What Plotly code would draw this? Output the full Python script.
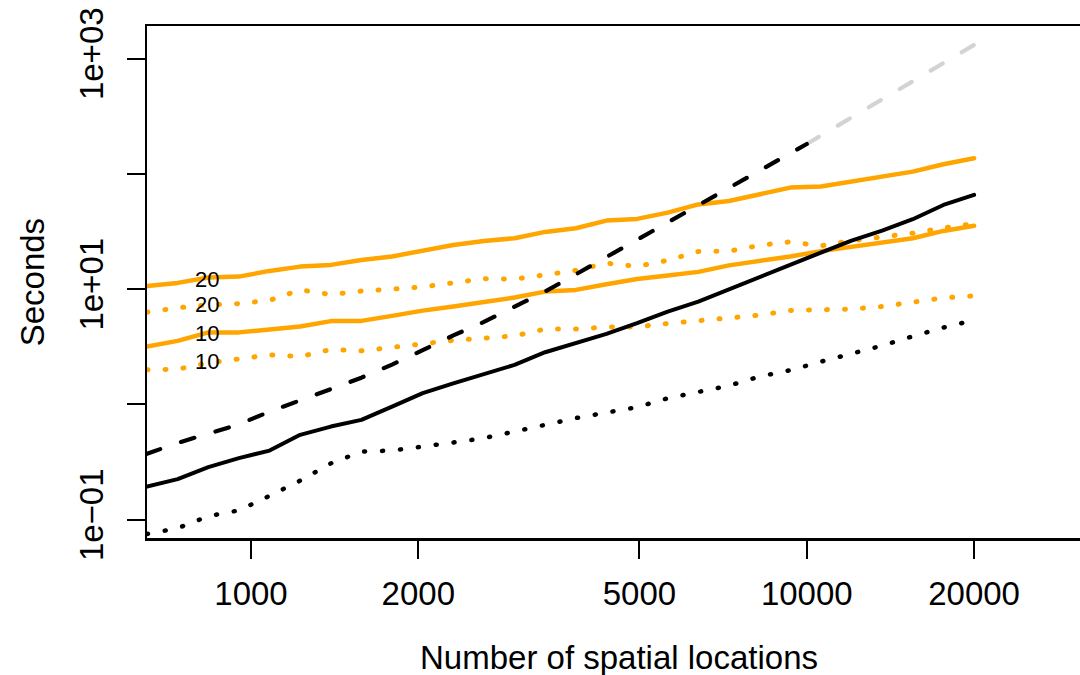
import numpy as np
import plotly.graph_objects as go

# ---- data ----
n_locations = [650, 738, 838, 951, 1080, 1226, 1392, 1580, 1794, 2037, 2312, 2625, 2980, 3383,
               3841, 4361, 4951, 5621, 6381, 7245, 8225, 9338, 10602, 12036, 13665, 15514, 17613, 20000]

black_solid = [0.194, 0.225, 0.286, 0.342, 0.398, 0.545, 0.643, 0.735, 0.959, 1.253, 1.524, 1.824,
               2.205, 2.84, 3.40, 4.10, 5.07, 6.39, 7.80, 10.0, 12.86, 16.25, 20.8, 26.4, 32.2, 40.5,
               53.8, 65.8]

dashed_locations = [650, 738, 838, 951, 1080, 1226, 1392, 1580, 1794, 2037, 2312, 2625, 2980, 3383,
                    3841, 4361, 4951, 5621, 6381, 7245, 8225, 9338, 10000]
black_dashed = [0.373, 0.464, 0.558, 0.672, 0.867, 1.096, 1.358, 1.708, 2.218, 2.96, 3.97, 5.20,
                7.04, 9.55, 13.46, 19.06, 26.8, 37.8, 54.1, 75.6, 106.2, 153, 182]

extrap_locations = [10000, 20000]
gray_dashed = [182, 1315]

black_dotted = [0.0752, 0.0844, 0.1074, 0.1205, 0.161, 0.218, 0.308, 0.390, 0.398, 0.428, 0.468,
                0.510, 0.577, 0.665, 0.762, 0.851, 0.948, 1.132, 1.270, 1.456, 1.746, 1.983, 2.35,
                2.76, 3.24, 3.90, 4.65, 5.38]

orange_solid_20 = [10.68, 11.34, 12.61, 12.86, 14.41, 15.70, 16.25, 17.95, 19.25, 21.79, 24.22,
                   26.24, 27.69, 31.41, 33.82, 39.36, 40.72, 46.16, 54.4, 58.3, 67.1, 76.1, 77.9,
                   85.8, 94.8, 104.7, 121.4, 136.8]

orange_solid_10 = [3.178, 3.562, 4.220, 4.220, 4.480, 4.739, 5.288, 5.31, 5.866, 6.52, 7.07, 7.72,
                   8.46, 9.53, 9.86, 11.05, 12.28, 13.13, 14.13, 16.09, 17.42, 19.25, 21.40, 23.18,
                   25.62, 27.69, 32.03, 35.54]

orange_dotted_20 = [6.32, 6.90, 7.31, 7.50, 8.00, 9.86, 8.98, 9.63, 10.02, 10.47, 11.36, 12.33,
                    12.21, 13.33, 14.55, 16.81, 15.77, 17.81, 21.23, 21.36, 24.03, 25.77, 23.75,
                    26.39, 28.42, 30.60, 34.02, 37.07]

orange_dotted_10 = [1.996, 2.024, 2.290, 2.476, 2.693, 2.603, 2.999, 2.917, 3.159, 3.355, 3.596,
                    3.728, 3.936, 4.507, 4.515, 4.692, 4.71, 5.04, 5.31, 5.66, 5.96, 6.54, 6.64,
                    6.72, 7.08, 7.70, 8.40, 8.75]

label_texts = ["20", "20", "10", "10"]
label_x = [832, 832, 832, 832]
label_y = [12.2, 7.41, 4.15, 2.355]

x_tick_vals = [1000, 2000, 5000, 10000, 20000]
x_tick_text = ["1000", "2000", "5000", "10000", "20000"]
y_tick_vals = [0.1, 1, 10, 100, 1000]
y_tick_text = ["1e\u221201", "", "1e+01", "", "1e+03"]

ORANGE = "#FFA500"
FONT = "Liberation Sans, Arial, Helvetica, sans-serif"
DASH = "14px,22px"   # drawn with round caps
DOT = "1px,17px"     # drawn with round caps -> round dots

fig = go.Figure()

def add_line(x, y, color, width, dash):
    fig.add_trace(go.Scatter(x=x, y=y, mode="lines",
                             line=dict(color=color, width=width, dash=dash),
                             showlegend=False, hoverinfo="skip"))

add_line(n_locations, orange_solid_20, ORANGE, 4.5, "solid")
add_line(n_locations, orange_solid_10, ORANGE, 4.5, "solid")
add_line(n_locations, orange_dotted_20, ORANGE, 5, DOT)
add_line(n_locations, orange_dotted_10, ORANGE, 5, DOT)
add_line(extrap_locations, gray_dashed, "#D3D3D3", 4.2, DASH)
add_line(dashed_locations, black_dashed, "black", 4.2, DASH)
add_line(n_locations, black_solid, "black", 4, "solid")
add_line(n_locations, black_dotted, "black", 4.5, DOT)

for t, lx, ly in zip(label_texts, label_x, label_y):
    fig.add_annotation(x=np.log10(lx), y=np.log10(ly), text=t, showarrow=False,
                       xref="x", yref="y", xanchor="center", yanchor="middle",
                       font=dict(family=FONT, size=22, color="black"))

fig.add_annotation(x=0.506, y=-0.234, xref="paper", yref="paper",
                   text="Number of spatial locations", showarrow=False,
                   xanchor="center", yanchor="middle",
                   font=dict(family=FONT, size=33, color="black"))
fig.add_annotation(x=-0.1229, y=0.5, xref="paper", yref="paper",
                   text="Seconds", showarrow=False, textangle=-90,
                   xanchor="center", yanchor="middle",
                   font=dict(family=FONT, size=33, color="black"))

fig.update_layout(
    template="none",
    width=1080, height=675,
    margin=dict(l=147, r=0, t=26, b=137, pad=0),
    plot_bgcolor="white", paper_bgcolor="white",
    font=dict(family=FONT, size=33, color="black"),
    xaxis=dict(type="log", range=[2.8129, 4.4916], showgrid=False, zeroline=False,
               showline=True, linecolor="black", linewidth=2.5, mirror=True,
               ticks="outside", ticklen=18, tickwidth=2, tickcolor="black",
               tickvals=x_tick_vals, ticktext=x_tick_text, automargin=False,
               ticklabelstandoff=7,
               tickfont=dict(family=FONT, size=33, color="black")),
    yaxis=dict(type="log", range=[-1.1587, 3.2836], showgrid=False, zeroline=False,
               showline=True, linecolor="black", linewidth=2.5, mirror=False,
               ticks="outside", ticklen=18, tickwidth=2, tickcolor="black",
               tickvals=y_tick_vals, ticktext=y_tick_text, tickangle=-90, automargin=False,
               ticklabelstandoff=10,
               tickfont=dict(family=FONT, size=33, color="black")),
)

post = """
document.body.style.margin = '0';
document.body.style.padding = '0';
var st = document.createElement('style');
st.textContent = '.scatterlayer path.js-line { stroke-linecap: round !important; stroke-linejoin: round !important; }';
document.head.appendChild(st);
"""

fig.write_html("out.html", post_script=post,
               config={"displayModeBar": False, "staticPlot": True})
